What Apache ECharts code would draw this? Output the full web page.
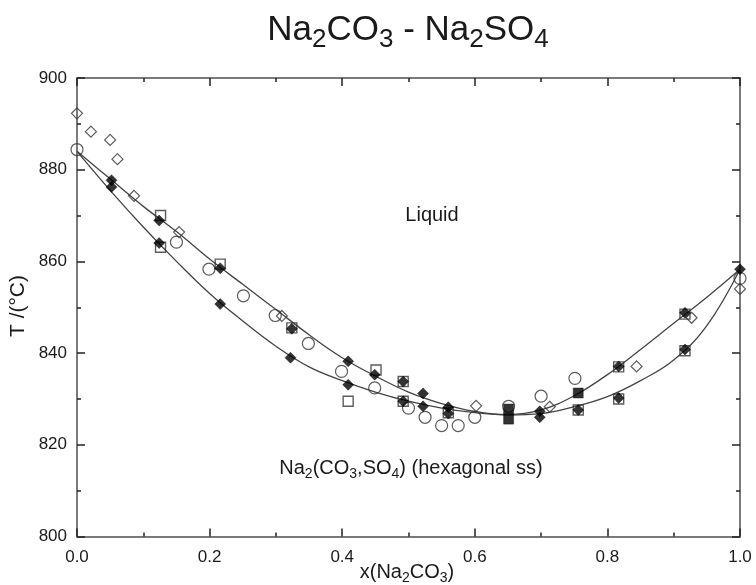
<!DOCTYPE html>
<html>
<head>
<meta charset="utf-8">
<script src="https://cdn.jsdelivr.net/npm/echarts@6/dist/echarts.min.js"></script>
<style>
html,body{margin:0;padding:0;background:#fff;}
#chart{width:756px;height:585px;}
</style>
</head>
<body>
<div id="chart"></div>
<script>
// ---- data (x = mole fraction Na2CO3, T in °C) ----
const xTicks = [0.0, 0.2, 0.4, 0.6, 0.8, 1.0];
const yTicks = [800, 820, 840, 860, 880, 900];

const liquidus = [[0,884],[0.05,878],[0.1,872],[0.15,866.5],[0.2,860.5],[0.25,855],[0.3,849.5],[0.35,844],[0.4,839],[0.45,835],[0.5,831.5],[0.55,829],[0.6,827.3],[0.65,826.6],[0.7,827.6],[0.75,830.7],[0.8,835.3],[0.85,840.8],[0.9,846.5],[0.95,852.2],[1.0,858.3]];
const solidus = [[0,884],[0.05,875.5],[0.1,867.5],[0.15,860],[0.2,853],[0.25,847],[0.3,841.5],[0.35,837],[0.4,834],[0.45,831.5],[0.5,829.5],[0.55,828],[0.6,827],[0.65,826.5],[0.7,826.8],[0.75,828.3],[0.8,830.5],[0.85,834],[0.9,838.5],[0.95,846],[1.0,858.3]];

const openCircles = [[0,884.4],[0.15,864.2],[0.199,858.3],[0.251,852.5],[0.299,848.2],[0.349,842.1],[0.399,836.0],[0.449,832.4],[0.5,828.0],[0.525,826.0],[0.55,824.2],[0.575,824.2],[0.6,826.0],[0.651,828.4],[0.700,830.6],[0.751,834.5],[1.0,856.3]];
const openDiamonds = [[0,892.3],[0.021,888.3],[0.05,886.5],[0.061,882.3],[0.086,874.3],[0.154,866.4],[0.309,848.1],[0.602,828.5],[0.713,828.3],[0.844,837.1],[0.927,847.7],[1.0,854.0]];
const openSquares = [[0.126,870.0],[0.126,863.1],[0.216,859.4],[0.324,845.5],[0.409,829.5],[0.451,836.3],[0.492,833.8],[0.492,829.5],[0.56,827.0],[0.756,827.6],[0.817,837.0],[0.817,830.0],[0.917,848.5],[0.917,840.5]];
const filledDiamonds = [[0.052,877.7],[0.052,876.2],[0.124,868.9],[0.124,864.0],[0.216,858.5],[0.216,850.7],[0.324,845.3],[0.322,839.0],[0.409,838.2],[0.409,833.1],[0.449,835.3],[0.492,833.8],[0.492,829.5],[0.522,831.2],[0.522,828.4],[0.56,828.2],[0.56,826.8],[0.698,827.3],[0.698,826.0],[0.756,827.6],[0.817,837.1],[0.817,830.2],[0.917,848.8],[0.917,840.8],[1.0,858.3]];
const filledSquares = [[0.651,827.8],[0.651,825.6],[0.756,831.3]];

// ---- chart ----
const FONT = '"Liberation Sans", Arial, Helvetica, sans-serif';
const TXT = '#1a1a1a';
const chart = echarts.init(document.getElementById('chart'), null, {renderer: 'canvas'});

function axisLine() { return {show: true, onZero: false, lineStyle: {color: '#7a7a7a', width: 2}}; }
function tickStyle() { return {show: true, inside: true, length: 8, lineStyle: {color: '#222', width: 1.5}}; }
function minorStyle() { return {show: true, splitNumber: 2, length: 4, lineStyle: {color: '#222', width: 1.5}}; }

function openSym(sym, size, data, bw) {
  return {type: 'scatter', data: data, symbol: sym, symbolSize: size, z: 3,
    itemStyle: {color: 'rgba(255,255,255,0)', borderColor: '#333', borderWidth: bw || 1.2},
    emphasis: {disabled: true}};
}
function filledSym(sym, size, data) {
  return {type: 'scatter', data: data, symbol: sym, symbolSize: size, z: 4,
    itemStyle: {color: '#000', borderColor: '#000', borderWidth: 0.5},
    emphasis: {disabled: true}};
}

const option = {
  backgroundColor: '#fff',
  animation: false,
  grid: {left: 77, right: 16, top: 78, bottom: 48.5, containLabel: false},
  xAxis: [
    {type: 'value', min: 0, max: 1, interval: 0.2, position: 'bottom',
     axisLine: axisLine(), axisTick: tickStyle(), minorTick: minorStyle(),
     splitLine: {show: false},
     axisLabel: {margin: 12, fontSize: 17, fontFamily: FONT, color: TXT,
       formatter: v => xTicks.find(t => Math.abs(t - v) < 1e-6).toFixed(1)}},
    {type: 'value', min: 0, max: 1, interval: 0.2, position: 'top',
     axisLine: axisLine(), axisTick: tickStyle(), minorTick: minorStyle(),
     splitLine: {show: false}, axisLabel: {show: false}}
  ],
  yAxis: [
    {type: 'value', min: yTicks[0], max: yTicks[yTicks.length-1], interval: 20, position: 'left',
     axisLine: axisLine(), axisTick: tickStyle(), minorTick: minorStyle(),
     splitLine: {show: false},
     axisLabel: {margin: 10, fontSize: 17, fontFamily: FONT, color: TXT}},
    {type: 'value', min: yTicks[0], max: yTicks[yTicks.length-1], interval: 20, position: 'right',
     axisLine: axisLine(), axisTick: tickStyle(), minorTick: minorStyle(),
     splitLine: {show: false}, axisLabel: {show: false}}
  ],
  series: [
    {type: 'line', data: liquidus, smooth: 0.4, symbol: 'none', z: 2,
     lineStyle: {color: '#444', width: 1.3}},
    {type: 'line', data: solidus, smooth: 0.4, symbol: 'none', z: 2,
     lineStyle: {color: '#444', width: 1.3}},
    openSym('circle', 12, openCircles, 1.2),
    openSym('diamond', 11, openDiamonds, 1.2),
    openSym('rect', 10, openSquares, 1.4),
    filledSym('diamond', 11, filledDiamonds),
    filledSym('rect', 10, filledSquares)
  ],
  graphic: [
    {type: 'text', x: 408, y: 30, z: 10,
     style: {text: '{n|Na}{s|2}{n|CO}{s|3}{n| - Na}{s|2}{n|SO}{s|4}',
       align: 'center', verticalAlign: 'middle', fill: TXT,
       rich: {n: {fontSize: 35, lineHeight: 46, fontFamily: FONT, color: TXT},
              s: {fontSize: 26, lineHeight: 26, fontFamily: FONT, color: TXT, verticalAlign: 'bottom'}}}},
    {type: 'text', x: 432, y: 215, z: 10,
     style: {text: 'Liquid', align: 'center', verticalAlign: 'middle', fill: TXT,
       fontSize: 20, fontFamily: FONT}},
    {type: 'text', x: 411, y: 468, z: 10,
     style: {text: '{n|Na}{s|2}{n|(CO}{s|3}{n|,SO}{s|4}{n|) (hexagonal ss)}',
       align: 'center', verticalAlign: 'middle', fill: TXT,
       rich: {n: {fontSize: 20, lineHeight: 26, fontFamily: FONT, color: TXT},
              s: {fontSize: 14, lineHeight: 14, fontFamily: FONT, color: TXT, verticalAlign: 'bottom'}}}},
    {type: 'text', x: 407, y: 572, z: 10,
     style: {text: '{n|x(Na}{s|2}{n|CO}{s|3}{n|)}',
       align: 'center', verticalAlign: 'middle', fill: TXT,
       rich: {n: {fontSize: 20, lineHeight: 26, fontFamily: FONT, color: TXT},
              s: {fontSize: 14, lineHeight: 14, fontFamily: FONT, color: TXT, verticalAlign: 'bottom'}}}},
    {type: 'text', x: 18, y: 306, rotation: Math.PI / 2, z: 10,
     style: {text: 'T /(°C)', align: 'center', verticalAlign: 'middle', fill: TXT,
       fontSize: 21, fontFamily: FONT}}
  ]
};
chart.setOption(option);
</script>
</body>
</html>
